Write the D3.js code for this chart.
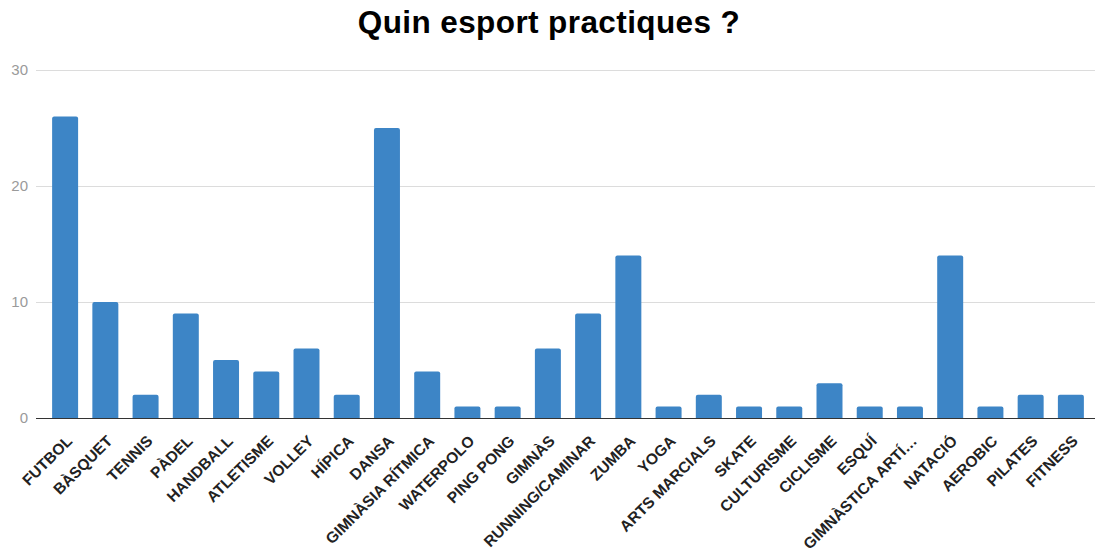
<!DOCTYPE html>
<html><head><meta charset="utf-8">
<script src="https://cdn.jsdelivr.net/npm/d3@7"></script>
<style>body{margin:0;background:#fff}svg{display:block}</style>
</head><body>
<svg id="c" width="1095" height="552"></svg>
<script>
const categories = ["FUTBOL","BÀSQUET","TENNIS","PÀDEL","HANDBALL","ATLETISME","VOLLEY","HÍPICA","DANSA","GIMNÀSIA RÍTMICA","WATERPOLO","PING PONG","GIMNÀS","RUNNING/CAMINAR","ZUMBA","YOGA","ARTS MARCIALS","SKATE","CULTURISME","CICLISME","ESQUÍ","GIMNÀSTICA ARTÍ…","NATACIÓ","AEROBIC","PILATES","FITNESS"];
const values = [26,10,2,9,5,4,6,2,25,4,1,1,6,9,14,1,2,1,1,3,1,1,14,1,2,2];
const yTicks = [0,10,20,30];
const title = "Quin esport practiques ?";

const svg = d3.select("#c");
const x = d3.scaleBand().domain(categories).range([45, 1091]).paddingInner(0.354).paddingOuter(0.177);
const y = d3.scaleLinear().domain([0,30]).range([418, 70]);

svg.append("text").attr("x",549).attr("y",33).attr("text-anchor","middle")
  .style("font-family","Liberation Sans, Arial, sans-serif").style("font-weight","bold").style("font-size","31.5px")
  .style("letter-spacing","0.4px").attr("fill","#000").text(title);

const ya = svg.append("g").attr("transform","translate(36,0)")
  .call(d3.axisLeft(y).tickValues(yTicks).tickSize(-1059).tickPadding(8));
ya.select(".domain").remove();
ya.selectAll(".tick line").attr("stroke","#dcdcdc").attr("stroke-width",1);
ya.selectAll(".tick text").attr("fill","#9a9a9a").style("font-family","Liberation Sans, Arial, sans-serif").style("font-size","15px");

const r = 2;
svg.append("g").selectAll("path").data(values).join("path")
  .attr("fill","#3d85c6")
  .attr("d",(d,i)=>{
    const x0 = x(categories[i]), w = x.bandwidth(), y0 = y(d), y1 = y(0);
    return `M${x0},${y1}V${y0+r}Q${x0},${y0} ${x0+r},${y0}H${x0+w-r}Q${x0+w},${y0} ${x0+w},${y0+r}V${y1}Z`;
  });

svg.append("line").attr("x1",36).attr("x2",1095).attr("y1",y(0)+0.5).attr("y2",y(0)+0.5).attr("stroke","#333").attr("stroke-width",1.2);

const xa = svg.append("g").attr("transform",`translate(0,${y(0)})`)
  .call(d3.axisBottom(x).tickSize(0).tickPadding(0));
xa.select(".domain").remove();
xa.selectAll(".tick text")
  .attr("text-anchor","end")
  .attr("transform","translate(8,24) rotate(-45)")
  .attr("dy","0").attr("y",0)
  .attr("fill","#222")
  .style("font-family","Liberation Sans, Arial, sans-serif").style("font-weight","bold").style("font-size","15.5px");
</script>
</body></html>
